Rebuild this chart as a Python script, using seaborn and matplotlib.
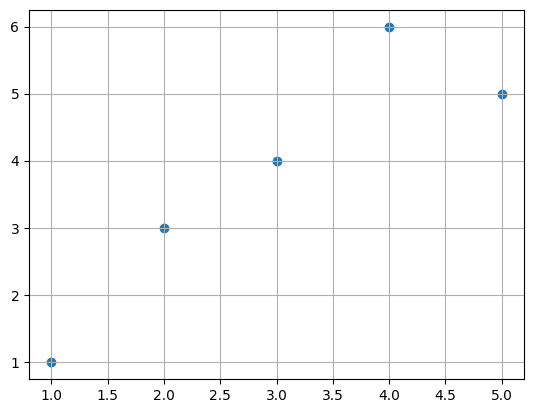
import matplotlib
matplotlib.use('Agg')
import matplotlib.pyplot as plt
import seaborn as sns

x = [1, 2, 3, 4, 5]
y = [1, 3, 4, 6, 5]

fig, ax = plt.subplots(figsize=(5.34, 4.13), dpi=100)
fig.subplots_adjust(left=0.0543, right=0.9813, bottom=0.0823, top=0.9758)

sns.scatterplot(x=x, y=y, ax=ax, color='#1f77b4', s=36, edgecolor='face', linewidth=1.0)
ax.grid(True)

plt.savefig('out.png')
